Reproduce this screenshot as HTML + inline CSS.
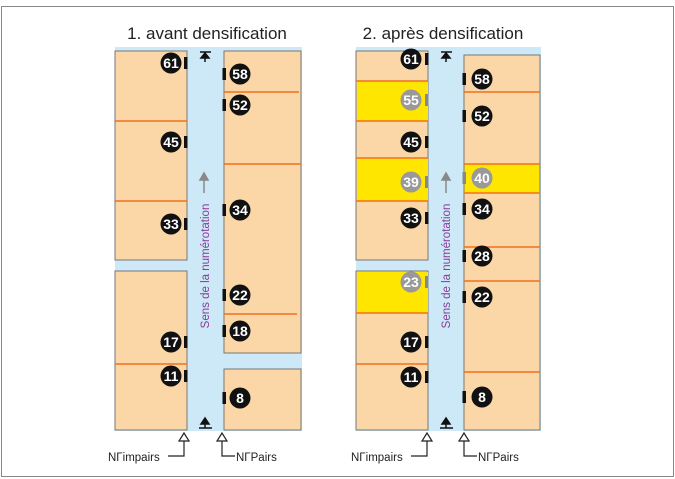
<!DOCTYPE html>
<html><head><meta charset="utf-8"><style>
html,body{margin:0;padding:0;background:#fff;}
svg{display:block;font-family:"Liberation Sans",Arial,sans-serif;}
.n circle{r:10.5px;}
.n text{transform:translateY(0.7px);}
</style></head><body>
<svg width="675" height="479" viewBox="0 0 675 479" xmlns="http://www.w3.org/2000/svg">
<rect x="1.5" y="6.5" width="672" height="470" fill="#fff" stroke="#888" stroke-width="1"/>
<text x="207" y="39" font-size="17" text-anchor="middle" fill="#222">1. avant densification</text>
<text x="443" y="39" font-size="17" text-anchor="middle" fill="#222">2. après densification</text>

<!-- LEFT DIAGRAM -->
<rect x="115" y="47" width="187" height="384" fill="#cde8f6"/>
<rect x="115" y="51" width="72" height="209" fill="#fbd7a7" stroke="#777" stroke-width="1"/>
<rect x="115" y="271" width="72" height="159" fill="#fbd7a7" stroke="#777" stroke-width="1"/>
<rect x="224" y="51" width="77" height="302" fill="#fbd7a7" stroke="#777" stroke-width="1"/>
<rect x="224" y="369" width="77" height="61" fill="#fbd7a7" stroke="#777" stroke-width="1"/>
<g stroke="#f07020" stroke-width="1.5">
<line x1="115" y1="121" x2="187" y2="121"/>
<line x1="115" y1="201" x2="187" y2="201"/>
<line x1="115" y1="364" x2="187" y2="364"/>
<line x1="224" y1="92" x2="299" y2="92"/>
<line x1="224" y1="164" x2="301" y2="164"/>
<line x1="224" y1="314" x2="297" y2="314"/>
</g>
<g stroke="#111" stroke-width="1.5" fill="#111">
<line x1="200" y1="52" x2="211" y2="52"/><line x1="205" y1="52" x2="205" y2="62"/><polygon points="205,53 201,58 209,58"/>
<line x1="199" y1="428" x2="212" y2="428"/><line x1="205" y1="428" x2="205" y2="420"/><polygon points="205,418 201,424 209,424"/>
</g>
<g stroke="#888" stroke-width="1.5" fill="#888"><line x1="204" y1="193" x2="204" y2="178"/><polygon points="204,173 200,180 208,180"/></g>
<text transform="translate(209,266) rotate(-90)" font-size="11.5" text-anchor="middle" fill="#8a3a9a">Sens de la numérotation</text>

<g class="n" font-size="14" font-weight="bold" text-anchor="middle" fill="#fff">
<g><rect x="184" y="57" width="3.5" height="12" fill="#111"/><circle cx="171" cy="63" r="10.5" fill="#111"/><text x="171" y="67.5">61</text></g>
<g><rect x="184" y="136" width="3.5" height="12" fill="#111"/><circle cx="171" cy="142" r="10.5" fill="#111"/><text x="171" y="146.5">45</text></g>
<g><rect x="184" y="218" width="3.5" height="12" fill="#111"/><circle cx="171" cy="224" r="10.5" fill="#111"/><text x="171" y="228.5">33</text></g>
<g><rect x="184" y="336" width="3.5" height="12" fill="#111"/><circle cx="171" cy="342" r="10.5" fill="#111"/><text x="171" y="346.5">17</text></g>
<g><rect x="184" y="370" width="3.5" height="12" fill="#111"/><circle cx="171" cy="376" r="10.5" fill="#111"/><text x="171" y="380.5">11</text></g>
<g><rect x="222.5" y="68" width="3.5" height="12" fill="#111"/><circle cx="240" cy="74" r="10.5" fill="#111"/><text x="240" y="78.5">58</text></g>
<g><rect x="222.5" y="99" width="3.5" height="12" fill="#111"/><circle cx="240" cy="105" r="10.5" fill="#111"/><text x="240" y="109.5">52</text></g>
<g><rect x="222.5" y="204" width="3.5" height="12" fill="#111"/><circle cx="240" cy="210" r="10.5" fill="#111"/><text x="240" y="214.5">34</text></g>
<g><rect x="222.5" y="289" width="3.5" height="12" fill="#111"/><circle cx="240" cy="295" r="10.5" fill="#111"/><text x="240" y="299.5">22</text></g>
<g><rect x="222.5" y="325" width="3.5" height="12" fill="#111"/><circle cx="240" cy="331" r="10.5" fill="#111"/><text x="240" y="335.5">18</text></g>
<g><rect x="222.5" y="392" width="3.5" height="12" fill="#111"/><circle cx="240" cy="398" r="10.5" fill="#111"/><text x="240" y="402.5">8</text></g>
</g>
<g stroke="#222" stroke-width="1.2" fill="#fff">
<polyline points="184,440 184,456 168,456" fill="none"/>
<polygon points="184,433 179,441 189,441"/>
<polyline points="222,440 222,456 235,456" fill="none"/>
<polygon points="222,433 217,441 227,441"/>
</g>
<text x="108" y="461" font-size="11.5" fill="#222">NΓimpairs</text>
<text x="236" y="461" font-size="11.5" fill="#222">NΓPairs</text>

<!-- RIGHT DIAGRAM -->
<rect x="356" y="47" width="185" height="384" fill="#cde8f6"/>
<rect x="356" y="51" width="72" height="209" fill="#fbd7a7" stroke="#777" stroke-width="1"/>
<rect x="357" y="81" width="71" height="40" fill="#ffe600"/>
<rect x="357" y="158" width="71" height="43" fill="#ffe600"/>
<rect x="356" y="271" width="72" height="159" fill="#fbd7a7" stroke="#777" stroke-width="1"/>
<rect x="357" y="272" width="71" height="41" fill="#ffe600"/>
<rect x="464" y="55" width="76" height="375" fill="#fbd7a7" stroke="#777" stroke-width="1"/>
<rect x="464.5" y="164" width="75" height="29" fill="#ffe600"/>
<g stroke="#f07020" stroke-width="1.5">
<line x1="356" y1="81" x2="428" y2="81"/>
<line x1="356" y1="121" x2="428" y2="121"/>
<line x1="356" y1="158" x2="428" y2="158"/>
<line x1="356" y1="201" x2="428" y2="201"/>
<line x1="356" y1="313" x2="428" y2="313"/>
<line x1="356" y1="364" x2="428" y2="364"/>
<line x1="464" y1="92" x2="540" y2="92"/>
<line x1="464" y1="164" x2="540" y2="164"/>
<line x1="464" y1="193" x2="540" y2="193"/>
<line x1="464" y1="247" x2="540" y2="247"/>
<line x1="464" y1="281" x2="540" y2="281"/>
<line x1="464" y1="372" x2="540" y2="372"/>
</g>
<g stroke="#111" stroke-width="1.5" fill="#111">
<line x1="441" y1="52" x2="452" y2="52"/><line x1="446" y1="52" x2="446" y2="62"/><polygon points="446,53 442,58 450,58"/>
<line x1="440" y1="428" x2="453" y2="428"/><line x1="446" y1="428" x2="446" y2="420"/><polygon points="446,418 442,424 450,424"/>
</g>
<g stroke="#888" stroke-width="1.5" fill="#888"><line x1="446" y1="193" x2="446" y2="178"/><polygon points="446,173 442,180 450,180"/></g>
<text transform="translate(450,266) rotate(-90)" font-size="11.5" text-anchor="middle" fill="#8a3a9a">Sens de la numérotation</text>

<g class="n" font-size="14" font-weight="bold" text-anchor="middle" fill="#fff">
<g><rect x="425" y="53" width="3.5" height="12" fill="#111"/><circle cx="411" cy="59" r="10.5" fill="#111"/><text x="411" y="63.5">61</text></g>
<g><rect x="425" y="94" width="3.5" height="12" fill="#888"/><circle cx="411" cy="100" r="10.5" fill="#999"/><text x="411" y="104.5">55</text></g>
<g><rect x="425" y="136" width="3.5" height="12" fill="#111"/><circle cx="411" cy="142" r="10.5" fill="#111"/><text x="411" y="146.5">45</text></g>
<g><rect x="425" y="176" width="3.5" height="12" fill="#888"/><circle cx="411" cy="182" r="10.5" fill="#999"/><text x="411" y="186.5">39</text></g>
<g><rect x="425" y="212" width="3.5" height="12" fill="#111"/><circle cx="411" cy="218" r="10.5" fill="#111"/><text x="411" y="222.5">33</text></g>
<g><rect x="425" y="276" width="3.5" height="12" fill="#888"/><circle cx="411" cy="282" r="10.5" fill="#999"/><text x="411" y="286.5">23</text></g>
<g><rect x="425" y="336" width="3.5" height="12" fill="#111"/><circle cx="411" cy="342" r="10.5" fill="#111"/><text x="411" y="346.5">17</text></g>
<g><rect x="425" y="371" width="3.5" height="12" fill="#111"/><circle cx="411" cy="377" r="10.5" fill="#111"/><text x="411" y="381.5">11</text></g>
<g><rect x="462.5" y="73" width="3.5" height="12" fill="#111"/><circle cx="482" cy="79" r="10.5" fill="#111"/><text x="482" y="83.5">58</text></g>
<g><rect x="462.5" y="110" width="3.5" height="12" fill="#111"/><circle cx="482" cy="116" r="10.5" fill="#111"/><text x="482" y="120.5">52</text></g>
<g><rect x="462.5" y="172" width="3.5" height="12" fill="#888"/><circle cx="482" cy="178" r="10.5" fill="#999"/><text x="482" y="182.5">40</text></g>
<g><rect x="462.5" y="203" width="3.5" height="12" fill="#111"/><circle cx="482" cy="209" r="10.5" fill="#111"/><text x="482" y="213.5">34</text></g>
<g><rect x="462.5" y="250" width="3.5" height="12" fill="#111"/><circle cx="482" cy="256" r="10.5" fill="#111"/><text x="482" y="260.5">28</text></g>
<g><rect x="462.5" y="291" width="3.5" height="12" fill="#111"/><circle cx="482" cy="297" r="10.5" fill="#111"/><text x="482" y="301.5">22</text></g>
<g><rect x="462.5" y="391" width="3.5" height="12" fill="#111"/><circle cx="482" cy="397" r="10.5" fill="#111"/><text x="482" y="401.5">8</text></g>
</g>
<g stroke="#222" stroke-width="1.2" fill="#fff">
<polyline points="427,440 427,456 411,456" fill="none"/>
<polygon points="427,433 422,441 432,441"/>
<polyline points="464,440 464,456 477,456" fill="none"/>
<polygon points="464,433 459,441 469,441"/>
</g>
<text x="351" y="461" font-size="11.5" fill="#222">NΓimpairs</text>
<text x="478" y="461" font-size="11.5" fill="#222">NΓPairs</text>
</svg>
</body></html>
